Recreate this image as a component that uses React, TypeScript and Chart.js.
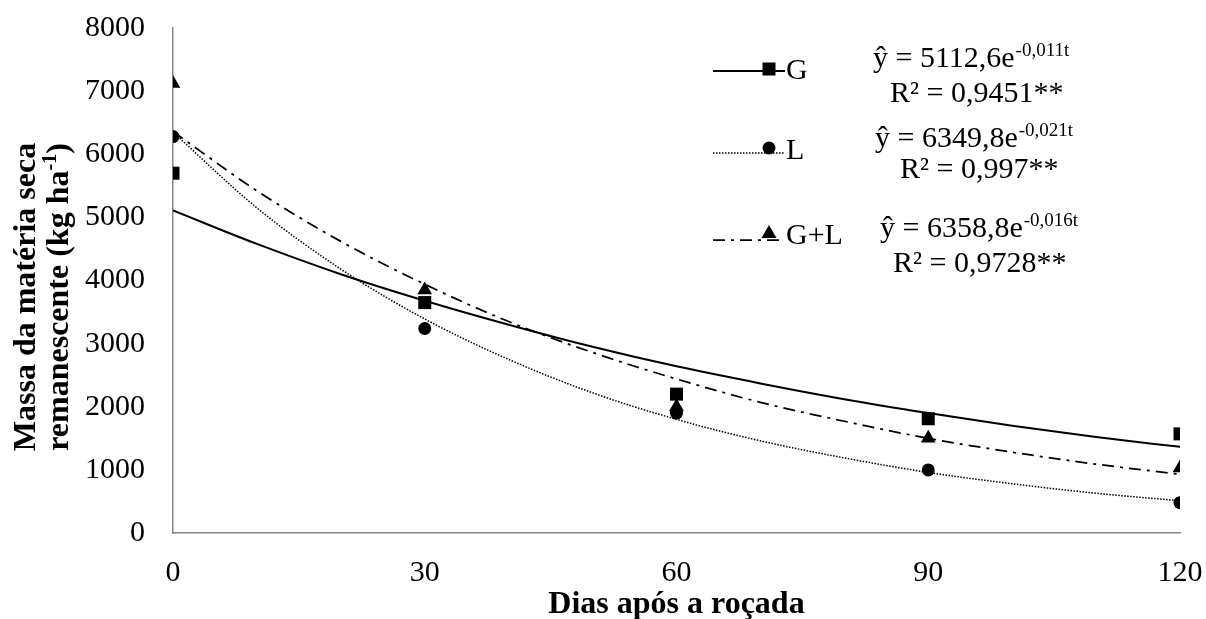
import React, { useEffect, useRef } from 'react';
import { Chart, registerables } from 'chart.js';

Chart.register(...registerables);

// ---- data ----
const days = [0, 30, 60, 90, 120];
const observedG = [5700, 3650, 2200, 1810, 1570];
const observedL = [6280, 3240, 1900, 1000, 480];
const observedGL = [7120, 3850, 2000, 1500, 1030];

const curveDays = [0, 10, 20, 30, 40, 50, 60, 70, 80, 90, 100, 110, 120];
const fitG = [5110, 4580, 4100, 3680, 3300, 2950, 2640, 2370, 2120, 1900, 1700, 1520, 1365];
const fitL = [6350, 5150, 4180, 3390, 2750, 2220, 1800, 1460, 1190, 960, 780, 630, 510];
const fitGL = [6360, 5420, 4620, 3940, 3350, 2860, 2440, 2070, 1770, 1500, 1280, 1090, 930];

const xTicks = [0, 30, 60, 90, 120];
const yTicks = [0, 1000, 2000, 3000, 4000, 5000, 6000, 7000, 8000];

const seriesNames = ['G', 'L', 'G+L'];
const eqMain = ['ŷ = 5112,6e', 'ŷ = 6349,8e', 'ŷ = 6358,8e'];
const eqExp = ['-0,011t', '-0,021t', '-0,016t'];
const r2Text = ['R² = 0,9451**', 'R² = 0,997**', 'R² = 0,9728**'];

const xTitle = 'Dias após a roçada';
const yTitle1 = 'Massa da matéria seca';
const yTitle2 = 'remanescente (kg ha';
const yTitleSup = '-1';
const yTitleEnd = ')';

const SERIF = "'Liberation Serif', 'Times New Roman', serif";
const AXIS_GRAY = '#868686';

const dashG: number[] = [];
const dashL = [1.5, 1.5];
const dashGL = [12, 6, 3, 6];

function drawMarker(ctx: CanvasRenderingContext2D, kind: string, x: number, y: number) {
  ctx.beginPath();
  if (kind === 'rect') {
    ctx.rect(x - 6.5, y - 6.5, 13, 13);
  } else if (kind === 'circle') {
    ctx.arc(x, y, 6.5, 0, Math.PI * 2);
  } else {
    ctx.moveTo(x, y - 8);
    ctx.lineTo(x + 7.5, y + 5);
    ctx.lineTo(x - 7.5, y + 5);
    ctx.closePath();
  }
  ctx.fillStyle = '#000';
  ctx.fill();
}

const annotations = {
  id: 'annotations',
  afterDraw(chart: any) {
    const ctx: CanvasRenderingContext2D = chart.ctx;
    ctx.save();
    ctx.fillStyle = '#000';
    ctx.strokeStyle = '#000';

    // x title
    ctx.font = `bold 32px ${SERIF}`;
    ctx.textAlign = 'center';
    ctx.textBaseline = 'alphabetic';
    const area = chart.chartArea;
    ctx.fillText(xTitle, (area.left + area.right) / 2, 613);

    // y title (rotated)
    ctx.save();
    ctx.translate(35, 297);
    ctx.rotate(-Math.PI / 2);
    ctx.font = `bold 32px ${SERIF}`;
    ctx.textAlign = 'center';
    ctx.fillText(yTitle1, 0, 0);
    ctx.textAlign = 'left';
    const w2 = ctx.measureText(yTitle2).width;
    ctx.font = `bold 20px ${SERIF}`;
    const wSup = ctx.measureText(yTitleSup).width;
    ctx.font = `bold 32px ${SERIF}`;
    const wEnd = ctx.measureText(yTitleEnd).width;
    const total = w2 + wSup + wEnd;
    let sx = -total / 2;
    ctx.fillText(yTitle2, sx, 33);
    sx += w2;
    ctx.font = `bold 20px ${SERIF}`;
    ctx.fillText(yTitleSup, sx, 33 - 12);
    sx += wSup;
    ctx.font = `bold 32px ${SERIF}`;
    ctx.fillText(yTitleEnd, sx, 33);
    ctx.restore();

    // legend
    const lineY = [71, 153, 240];
    const markY = [69, 148, 233];
    const textY = [79, 159, 244];
    const kinds = ['rect', 'circle', 'triangle'];
    const dashes = [dashG, dashL, dashGL];
    const widths = [2, 1.5, 1.75];
    const eqY = [67, 147, 237];
    const r2Y = [102, 178, 272];
    const eqX = [873, 875, 880];
    const r2X = [890, 900, 893];
    for (let i = 0; i < 3; i++) {
      ctx.save();
      ctx.setLineDash(dashes[i]);
      ctx.lineWidth = widths[i];
      ctx.beginPath();
      ctx.moveTo(713, lineY[i]);
      ctx.lineTo(785, lineY[i]);
      ctx.stroke();
      ctx.restore();
      drawMarker(ctx, kinds[i], 769, markY[i]);
      ctx.font = `30px ${SERIF}`;
      ctx.textAlign = 'left';
      ctx.textBaseline = 'alphabetic';
      ctx.fillText(seriesNames[i], 786, textY[i]);
      // equation
      ctx.fillText(eqMain[i], eqX[i], eqY[i]);
      const wm = ctx.measureText(eqMain[i]).width;
      ctx.font = `19px ${SERIF}`;
      ctx.fillText(eqExp[i], eqX[i] + wm + 1, eqY[i] - 11);
      ctx.font = `30px ${SERIF}`;
      ctx.fillText(r2Text[i], r2X[i], r2Y[i]);
    }
    ctx.restore();
  },
};

function pts(xs: number[], ys: number[]) {
  return xs.map((x, i) => ({ x, y: ys[i] }));
}

export default function App() {
  const ref = useRef<HTMLCanvasElement | null>(null);
  useEffect(() => {
    if (!ref.current) return;
    const tickFont = { family: SERIF, size: 30 };
    const lineCommon = {
      showLine: true,
      pointRadius: 0,
      borderColor: '#000',
      backgroundColor: '#000',
      cubicInterpolationMode: 'monotone' as const,
      order: 2,
    };
    const markCommon = {
      showLine: false,
      backgroundColor: '#000',
      borderColor: '#000',
      borderWidth: 0,
      order: 0,
    };
    const chart = new Chart(ref.current, {
      type: 'scatter',
      data: {
        datasets: [
          { ...lineCommon, label: 'G fit', data: pts(curveDays, fitG), borderWidth: 2, borderDash: dashG },
          { ...lineCommon, label: 'L fit', data: pts(curveDays, fitL), borderWidth: 1.5, borderDash: dashL },
          { ...lineCommon, label: 'G+L fit', data: pts(curveDays, fitGL), borderWidth: 1.75, borderDash: dashGL },
          { ...markCommon, label: 'G', data: pts(days, observedG), pointStyle: 'rect', pointRadius: 9.2 },
          { ...markCommon, label: 'L', data: pts(days, observedL), pointStyle: 'circle', pointRadius: 6.5 },
          { ...markCommon, label: 'G+L', data: pts(days, observedGL), pointStyle: 'triangle', pointRadius: 8.5 },
        ],
      },
      options: {
        responsive: false,
        animation: false,
        devicePixelRatio: 1,
        layout: { padding: { top: 28, right: 26, left: 0, bottom: 0 } },
        plugins: { legend: { display: false }, tooltip: { enabled: false } },
        scales: {
          x: {
            type: 'linear',
            min: 0,
            max: 120,
            afterBuildTicks: (s: any) => {
              s.ticks = xTicks.map((v) => ({ value: v }));
            },
            afterFit: (s: any) => {
              s.height = 86;
              s.paddingLeft = 0;
              s.paddingRight = 0;
              s.paddingTop = 0;
              s.paddingBottom = 0;
            },
            grid: { display: false, drawTicks: false },
            border: { display: true, color: AXIS_GRAY, width: 1.5 },
            ticks: { font: tickFont, color: '#000', padding: 22, maxRotation: 0 },
          },
          y: {
            type: 'linear',
            min: 0,
            max: 8000,
            afterBuildTicks: (s: any) => {
              s.ticks = yTicks.map((v) => ({ value: v }));
            },
            afterFit: (s: any) => {
              s.width = 173;
              s.paddingLeft = 0;
              s.paddingRight = 0;
              s.paddingTop = 0;
              s.paddingBottom = 0;
            },
            grid: { display: false, drawTicks: false },
            border: { display: true, color: AXIS_GRAY, width: 1.5 },
            ticks: { font: tickFont, color: '#000', padding: 28, callback: (v: any) => String(v) },
          },
        },
      },
      plugins: [annotations],
    });
    return () => chart.destroy();
  }, []);
  return (
    <div style={{ position: 'fixed', left: 0, top: 0, width: 1206, height: 619, background: '#fff' }}>
      <canvas ref={ref} width={1206} height={619} />
    </div>
  );
}
